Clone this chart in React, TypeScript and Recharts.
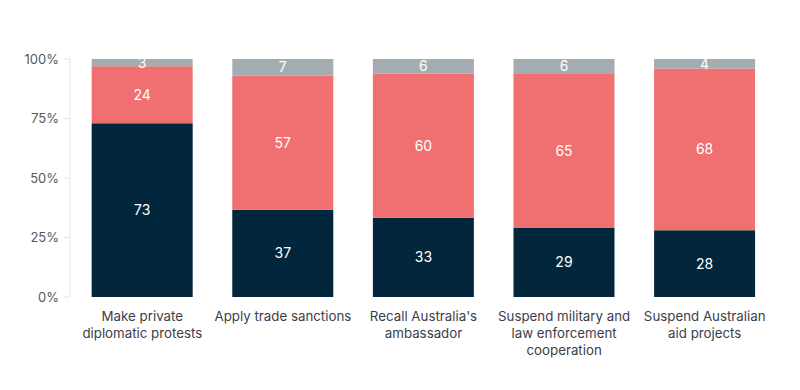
import React from 'react';
import { BarChart, Bar, XAxis, YAxis, LabelList } from 'recharts';

const categories = [
  'Make private diplomatic protests',
  'Apply trade sanctions',
  "Recall Australia's ambassador",
  'Suspend military and law enforcement cooperation',
  'Suspend Australian aid projects',
];
const categoryLines = [
  ['Make private', 'diplomatic protests'],
  ['Apply trade sanctions'],
  ["Recall Australia's", 'ambassador'],
  ['Suspend military and', 'law enforcement', 'cooperation'],
  ['Suspend Australian', 'aid projects'],
];
const seriesNavy = [73, 37, 33, 29, 28];
const seriesRed = [24, 57, 60, 65, 68];
const seriesGray = [3, 7, 6, 6, 4];
const yTicks = [0, 0.25, 0.5, 0.75, 1];

const data = categories.map((c, i) => ({
  name: c,
  idx: i,
  navy: seriesNavy[i],
  red: seriesRed[i],
  gray: seriesGray[i],
}));

const FONT = 'Inter, "Noto Sans", sans-serif';

const XTick = (props: any) => {
  const { x, y, payload } = props;
  const lines = categoryLines[payload.index] || [String(payload.value)];
  return (
    <g transform={`translate(${x},${y})`}>
      {lines.map((l: string, i: number) => (
        <text key={i} x={0} y={16 + i * 17} textAnchor="middle" fill="#3b4047" fontSize={13.3} fontFamily={FONT}>
          {l}
        </text>
      ))}
    </g>
  );
};

export default function App() {
  return (
    <div style={{ position: 'absolute', left: 0, top: 0, background: '#fff' }}>
      <BarChart
        width={800}
        height={390}
        data={data}
        stackOffset="expand"
        margin={{ top: 59, right: 25, left: 10, bottom: 13 }}
        barCategoryGap="14%"
      >
        <XAxis
          dataKey="name"
          axisLine={false}
          tickLine={false}
          height={80}
          interval={0}
          padding={{ left: 2, right: 0 }}
          tick={<XTick />}
        />
        <YAxis
          width={60}
          ticks={yTicks}
          domain={[0, 1]}
          tickFormatter={(v: number) => `${Math.round(v * 100)}%`}
          axisLine={{ stroke: '#e3e3e3' }}
          tickLine={{ stroke: '#e3e3e3' }}
          tickSize={6}
          tickMargin={5}
          tick={{ fill: '#555a60', fontSize: 13, fontFamily: FONT }}
        />
        <Bar dataKey="navy" stackId="a" fill="#02263c" isAnimationActive={false}>
          <LabelList dataKey="navy" position="center" fill="#ffffff" fontSize={14} fontFamily={FONT} />
        </Bar>
        <Bar dataKey="red" stackId="a" fill="#f06f71" isAnimationActive={false}>
          <LabelList dataKey="red" position="center" fill="#ffffff" fontSize={14} fontFamily={FONT} />
        </Bar>
        <Bar dataKey="gray" stackId="a" fill="#a3acb1" isAnimationActive={false}>
          <LabelList dataKey="gray" position="center" fill="#ffffff" fontSize={14} fontFamily={FONT} />
        </Bar>
      </BarChart>
    </div>
  );
}
